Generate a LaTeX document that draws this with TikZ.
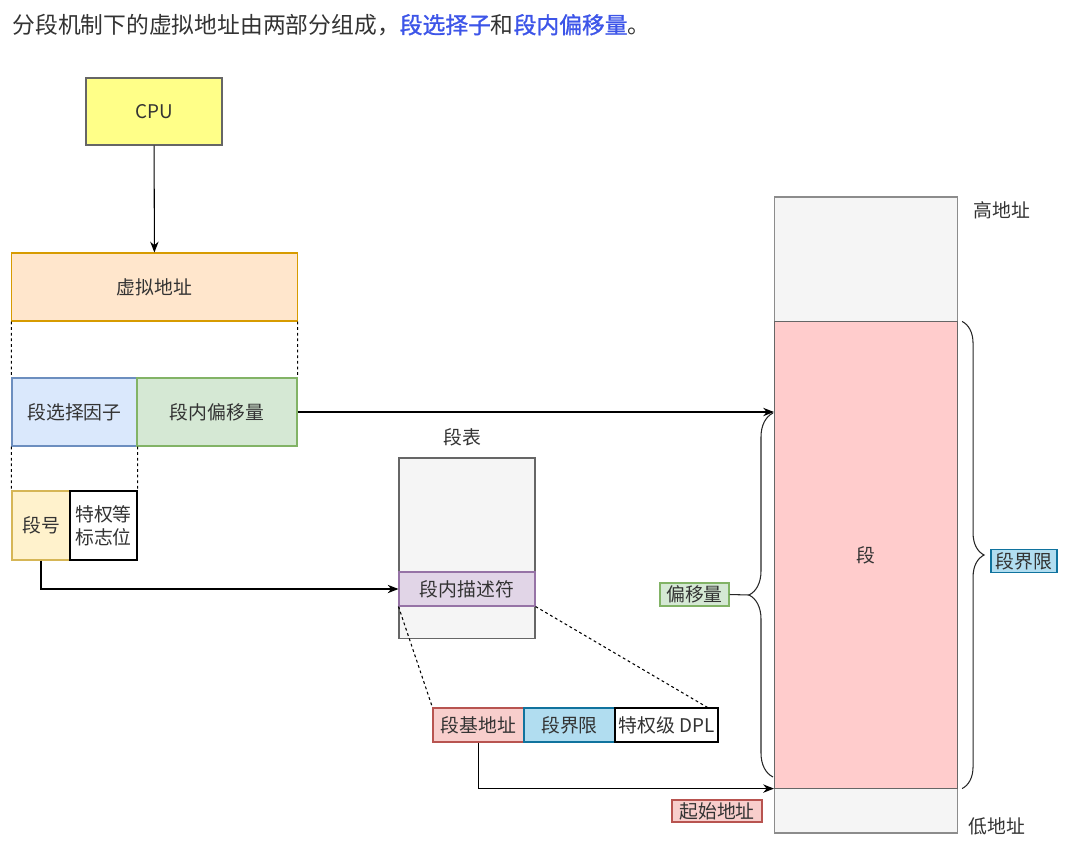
\documentclass[tikz,border=0pt]{standalone}
\usepackage{fontspec}
\setmainfont{Noto Sans CJK SC}
\newfontfamily\headbold[FakeBold=1.2]{Noto Sans CJK SC}
\usetikzlibrary{arrows.meta}
\usetikzlibrary{decorations.pathreplacing}

\definecolor{txt}{HTML}{333333}
\definecolor{hblue}{HTML}{3D55E8}
\definecolor{cpufill}{HTML}{FFFF88}
\definecolor{vafill}{HTML}{FFE6CC}
\definecolor{valine}{HTML}{D79B00}
\definecolor{selfill}{HTML}{DAE8FC}
\definecolor{selline}{HTML}{6C8EBF}
\definecolor{offfill}{HTML}{D5E8D4}
\definecolor{offline}{HTML}{82B366}
\definecolor{nofill}{HTML}{FFF2CC}
\definecolor{noline}{HTML}{D6B656}
\definecolor{greyfill}{HTML}{F5F5F5}
\definecolor{greyline}{HTML}{666666}
\definecolor{descfill}{HTML}{E1D5E7}
\definecolor{descline}{HTML}{9673A6}
\definecolor{basefill}{HTML}{F8CECC}
\definecolor{baseline}{HTML}{B85450}
\definecolor{limfill}{HTML}{B1DDF0}
\definecolor{limline}{HTML}{10739E}
\definecolor{segfill}{HTML}{FFCCCC}

\begin{document}
\begin{tikzpicture}[x=0.025cm,y=-0.025cm,line width=0.75pt,
  box/.style={draw,inner sep=0pt,align=center,text=txt,font=\fontsize{13.4}{16.5}\selectfont},
  lbl/.style={inner sep=0pt,text=txt,font=\fontsize{13.4}{16.5}\selectfont},
  arr/.style={-{Stealth[length=0.27cm,width=0.21cm]},draw=black},
  dotline/.style={dash pattern=on 2pt off 2pt,draw=black},
  bracket/.style={decorate,draw=black!85}]

\useasboundingbox (0,0) rectangle (1071,847);

% title line
\node[anchor=west,inner sep=0pt,text=txt,font=\fontsize{16.2}{19}\selectfont] (title) at (12,25)
  {分段机制下的虚拟地址由两部分组成，\textcolor{hblue}{\headbold 段选择子}和\textcolor{hblue}{\headbold 段内偏移量}。};

% cpu and virtual address
\node[box,fill=cpufill,draw=greyline,minimum width=3.4cm,minimum height=1.675cm] (cpu) at (154,111.5) {CPU};
\node[box,fill=vafill,draw=valine,minimum width=7.125cm,minimum height=1.7cm] (va) at (154.5,287) {虚拟地址};

\node[box,fill=selfill,draw=selline,minimum width=3.125cm,minimum height=1.7cm] (sel) at (74.5,412) {段选择因子};
\node[box,fill=offfill,draw=offline,minimum width=4cm,minimum height=1.7cm] (off) at (217,412) {段内偏移量};

\node[box,fill=nofill,draw=noline,minimum width=1.45cm,minimum height=1.725cm] (segno) at (41,525.5) {段号};
\node[box,fill=white,draw=black,minimum width=1.675cm,minimum height=1.725cm] (flags) at (103.5,525.5) {特权等\\标志位};

% segment table
\node[lbl] (tbltitle) at (462,437) {段表};
\node[box,fill=greyfill,draw=greyline,minimum width=3.4cm,minimum height=4.5cm] (tbl) at (467,548) {};
\node[box,fill=descfill,draw=descline,minimum width=3.4cm,minimum height=0.85cm] (desc) at (467,589) {段内描述符};

% descriptor fields
\node[box,fill=basefill,draw=baseline,minimum width=2.275cm,minimum height=0.85cm] (base) at (478.5,725) {段基地址};
\node[box,fill=limfill,draw=limline,minimum width=2.275cm,minimum height=0.85cm] (lim) at (569.5,725) {段界限};
\node[box,fill=white,draw=black,minimum width=2.575cm,minimum height=0.85cm] (dpl) at (666.5,725) {特权级 DPL};

% memory
\node[box,fill=greyfill,draw=black!45,minimum width=4.575cm,minimum height=3.125cm] (high) at (866,259.5) {};
\node[box,fill=greyfill,draw=black!45,minimum width=4.575cm,minimum height=1.125cm] (low) at (866,810.5) {};
\node[box,fill=segfill,draw=greyline,minimum width=4.575cm,minimum height=11.65cm] (seg) at (866,555) {段};

\node[lbl] (highlbl) at (1002,210) {高地址};
\node[lbl] (lowlbl) at (997,826) {低地址};

\node[box,fill=limfill,draw=limline,minimum width=1.65cm,minimum height=0.575cm] (limlbl) at (1024,561) {段界限};
\node[box,fill=offfill,draw=offline,minimum width=1.725cm,minimum height=0.575cm] (offlbl) at (694.5,594.5) {偏移量};
\node[box,fill=basefill,draw=baseline,minimum width=2.25cm,minimum height=0.55cm] (startlbl) at (717,811) {起始地址};

% dashed guides
\draw[dotline] (va.south west) -- (sel.north west);
\draw[dotline] (va.south east) -- (off.north east);
\draw[dotline] (sel.south west) -- (segno.north west);
\draw[dotline] (sel.south east) -- (flags.north east);
\draw[dotline] (desc.south west) -- (base.north west);
\draw[dotline] (desc.south east) -- ([xshift=-0.275cm]dpl.north east);

% arrows
\draw[arr] (cpu) -- (va);
\draw[arr] (off.east) -- (off.east -| seg.west);
\draw[arr] (segno.south) |- (desc.west);
\draw[arr] (base.south) |- (seg.south west);

% braces
\coordinate (bt) at (773,413);
\coordinate (bb) at (773,777);
\coordinate (offtip) at (749,595);
\draw[bracket,decoration={brace,amplitude=0.6cm}] (bb) -- (bt);
\draw[draw=black!85] (offlbl.east) -- (offtip);
\draw[bracket,decoration={brace,amplitude=0.55cm}] ([xshift=0.1cm]seg.north east) -- ([xshift=0.1cm]seg.south east);

\end{tikzpicture}
\end{document}
